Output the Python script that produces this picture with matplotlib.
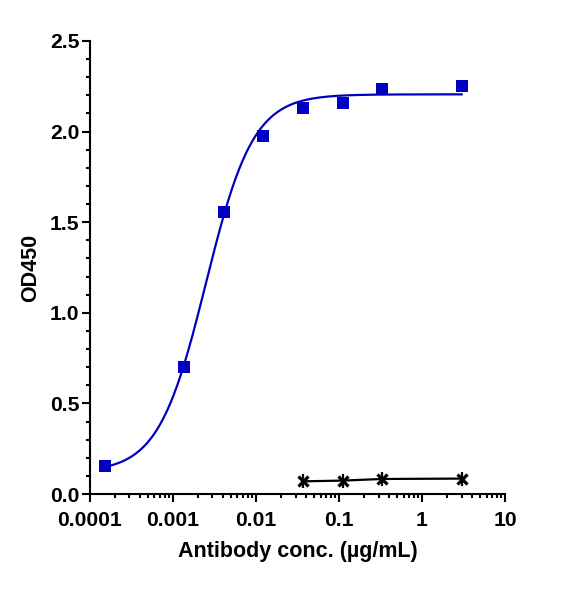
import numpy as np
import matplotlib
matplotlib.use("Agg")
import matplotlib.pyplot as plt
from matplotlib.ticker import LogLocator, FixedLocator, NullFormatter, FuncFormatter

plt.rcParams['font.family'] = ['Liberation Sans', 'DejaVu Sans']
plt.rcParams['font.weight'] = 'bold'

# Data
conc_blue = [0.000152, 0.00137, 0.00412, 0.0123, 0.037, 0.111, 0.333, 3.0]
od_blue = [0.155, 0.703, 1.555, 1.977, 2.128, 2.156, 2.235, 2.253]
conc_black = [0.037, 0.111, 0.333, 3.0]
od_black = [0.070, 0.074, 0.083, 0.085]

# 4PL fit parameters (estimated)
fit_bottom = 0.12
fit_top = 2.205
fit_ec50 = 0.0025
fit_hill = 1.52

xticks = [0.0001, 0.001, 0.01, 0.1, 1, 10]
xticklabels = ['0.0001', '0.001', '0.01', '0.1', '1', '10']
yticks = [0.0, 0.5, 1.0, 1.5, 2.0, 2.5]

fig = plt.figure(figsize=(5.72, 5.90), dpi=100)
ax = fig.add_axes([0.157, 0.1627, 0.726, 0.768])

xs = np.logspace(np.log10(min(conc_blue)), np.log10(max(conc_blue)), 400)
ys = fit_bottom + (fit_top - fit_bottom) / (1 + (fit_ec50 / xs) ** fit_hill)
blue = '#0000C0'
ax.plot(xs, ys, color=blue, lw=1.6, zorder=3)
ax.plot(conc_blue, od_blue, 's', color=blue, ms=8.4, mew=0, zorder=4, clip_on=False)
ax.plot(conc_black, od_black, '-', color='black', lw=1.6, zorder=4)
ax.plot(conc_black, od_black, 'x', color='black', ms=7.5, mew=2.3, zorder=5)
ax.plot(conc_black, od_black, '|', color='black', ms=9.5, mew=1.6, zorder=5)

ax.set_xscale('log')
ax.set_xlim(0.0001, 10)
ax.set_ylim(0, 2.5)
ax.set_xticks(xticks)
ax.set_xticklabels(xticklabels)
ax.xaxis.set_minor_locator(LogLocator(base=10, subs=np.arange(2, 10)))
ax.xaxis.set_minor_formatter(NullFormatter())
ax.set_yticks(yticks)
ax.yaxis.set_major_formatter(FuncFormatter(lambda v, p: f'{v:.1f}'))
ax.yaxis.set_minor_locator(FixedLocator(np.arange(0, 2.51, 0.1)))

for s in ['top', 'right']:
    ax.spines[s].set_visible(False)
for s in ['left', 'bottom']:
    ax.spines[s].set_linewidth(1.5)

ax.tick_params(axis='both', which='major', length=6, width=1.5, labelsize=15.2)
ax.tick_params(axis='both', which='minor', length=3.2, width=1.5)
ax.tick_params(axis='x', which='major', pad=6.5)
ax.tick_params(axis='y', which='major', pad=1.5)
for lab in ax.get_xticklabels() + ax.get_yticklabels():
    lab.set_fontweight('bold')

ax.set_xlabel('Antibody conc. (µg/mL)', fontsize=15.5, fontweight='bold', labelpad=8)
ax.set_ylabel('OD450', fontsize=15.5, fontweight='bold', labelpad=6)

fig.savefig('out.png', dpi=100)
